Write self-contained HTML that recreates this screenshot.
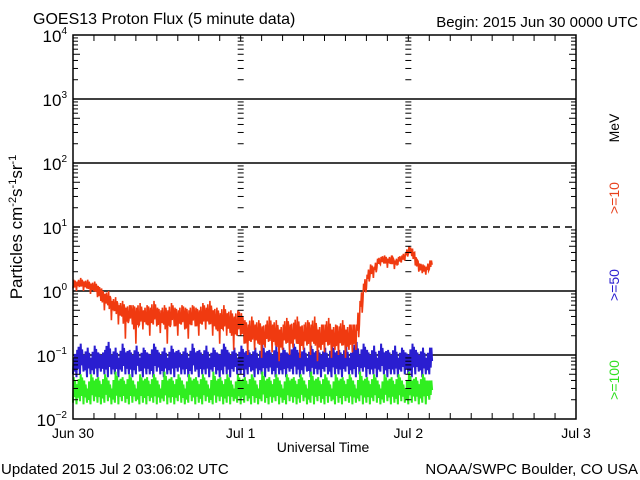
<!DOCTYPE html>
<html><head><meta charset="utf-8"><style>
body{margin:0;background:#fff;width:640px;height:480px;overflow:hidden}
svg{display:block;font-family:"Liberation Sans","DejaVu Sans",sans-serif}
</style></head><body>
<svg id="chart" width="640" height="480" viewBox="0 0 640 480">
<rect x="0" y="0" width="640" height="480" fill="#fff"/>
<text x="33" y="24" font-size="16">GOES13 Proton Flux (5 minute data)</text>
<text x="638" y="27" font-size="15" text-anchor="end">Begin: 2015 Jun 30 0000 UTC</text>
<g id="grid"></g>
<g id="series"></g>
<g id="axes"></g>
<text transform="translate(22,227) rotate(-90)" font-size="17" text-anchor="middle">Particles cm<tspan dy="-6" font-size="11">-2</tspan><tspan dy="6">s</tspan><tspan dy="-6" font-size="11">-1</tspan><tspan dy="6">sr</tspan><tspan dy="-6" font-size="11">-1</tspan></text>
<text transform="translate(619,128) rotate(-90)" font-size="14" text-anchor="middle">MeV</text>
<text transform="translate(619,198) rotate(-90)" font-size="14" text-anchor="middle" fill="#e8401c">&gt;=10</text>
<text transform="translate(619,285) rotate(-90)" font-size="14" text-anchor="middle" fill="#2a1ed0">&gt;=50</text>
<text transform="translate(619,380) rotate(-90)" font-size="14" text-anchor="middle" fill="#30e020">&gt;=100</text>
<text x="323" y="452" font-size="14" text-anchor="middle">Universal Time</text>
<text x="1" y="474" font-size="15">Updated 2015 Jul  2 03:06:02 UTC</text>
<text x="638" y="474" font-size="15" text-anchor="end">NOAA/SWPC Boulder, CO USA</text>
</svg>
<script>
const dayLabels=["Jun 30","Jul 1","Jul 2","Jul 3"];
const decadeExps=[-2,-1,0,1,2,3,4];
const stepHours=0.5;
const redHi=[1.5,1.4,1.6,1.4,1.5,1.3,1.4,1.2,1.1,
0.9,1.0,0.7,0.8,0.6,0.7,0.55,0.6,
0.6,0.55,0.65,0.5,0.6,0.55,0.7,0.55,0.5,0.6,0.5,0.65,0.55,0.5,0.6,0.55,0.5,0.6,0.55,0.5,0.65,0.55,0.7,0.5,0.55,0.45,0.6,0.45,0.5,0.4,0.5,0.45,
0.35,0.3,0.4,0.3,0.35,0.28,0.3,0.4,0.3,0.35,0.25,0.3,0.38,0.3,0.32,0.4,0.28,0.3,0.35,0.3,0.4,0.25,0.3,0.3,0.38,0.25,0.3,0.28,0.35,0.25,0.3,0.3,
0.3,0.7,1.3,1.8,2.6,2.4,3.2,3.4,
3.6,3.2,3.6,3.0,3.4,3.6,4.0,5.0,
4.6,3.4,2.7,2.6,2.4,3.0];
const redLo=[1.1,1.0,1.2,1.0,1.1,0.9,1.0,0.8,0.7,
0.5,0.6,0.35,0.5,0.3,0.4,0.18,0.35,
0.3,0.15,0.3,0.25,0.3,0.2,0.3,0.28,0.22,0.3,0.15,0.3,0.28,0.2,0.3,0.25,0.18,0.3,0.28,0.2,0.3,0.25,0.3,0.2,0.25,0.15,0.25,0.2,0.22,0.12,0.2,0.2,
0.15,0.1,0.16,0.12,0.15,0.09,0.13,0.16,0.11,0.14,0.08,0.12,0.15,0.1,0.13,0.15,0.09,0.12,0.14,0.1,0.15,0.08,0.12,0.11,0.14,0.09,0.12,0.1,0.14,0.09,0.12,0.11,
0.12,0.3,0.7,1.1,1.7,1.6,2.3,2.6,
2.7,2.3,2.7,2.2,2.6,2.8,3.0,3.8,
3.5,2.5,2.0,1.9,1.8,2.2];
const blueHi=[0.09,0.12,0.15,0.1,0.13,0.09,0.14,0.11,0.1,0.12,0.16,0.1,0.13,0.09,0.15,0.11,0.12,0.1,0.14,0.09,0.13,0.11,0.1,0.15,0.12,0.1,0.13,0.09,0.14,0.11,0.12,0.1,0.13,0.09,0.15,0.11,0.12,0.1,0.14,0.09,0.13,0.11,0.1,0.15,0.12,0.1,0.13,0.09,0.14,0.11,0.12,0.1,0.13,0.09,0.15,0.11,0.12,0.1,0.14,0.09,0.13,0.11,0.1,0.15,0.12,0.1,0.13,0.09,0.14,0.11,0.12,0.1,0.13,0.09,0.15,0.11,0.12,0.1,0.14,0.09,0.13,0.16,0.1,0.15,0.12,0.1,0.14,0.09,0.15,0.11,0.12,0.1,0.14,0.09,0.13,0.11,0.1,0.15,0.12,0.1,0.13,0.09,0.13];
const blueLo=[0.05,0.045,0.05,0.055,0.045,0.05,0.05,0.045,0.055,0.05,0.045,0.05,0.05,0.045,0.055,0.05,0.05,0.045,0.05,0.055,0.045,0.05,0.05,0.045,0.055,0.05,0.045,0.05,0.05,0.045,0.055,0.05,0.05,0.045,0.05,0.055,0.045,0.05,0.05,0.045,0.055,0.05,0.045,0.05,0.05,0.045,0.055,0.05,0.05,0.045,0.05,0.055,0.045,0.05,0.05,0.045,0.055,0.05,0.045,0.05,0.05,0.045,0.055,0.05,0.05,0.045,0.05,0.055,0.045,0.05,0.05,0.045,0.055,0.05,0.045,0.05,0.05,0.045,0.055,0.05,0.05,0.045,0.05,0.055,0.045,0.05,0.05,0.045,0.055,0.05,0.045,0.05,0.05,0.045,0.055,0.05,0.05,0.045,0.05,0.055,0.045,0.05,0.05];
const greenHi=[0.045,0.035,0.05,0.04,0.03,0.05,0.04,0.045,0.035,0.05,0.04,0.03,0.055,0.04,0.045,0.035,0.05,0.04,0.03,0.05,0.04,0.045,0.035,0.05,0.04,0.03,0.055,0.04,0.045,0.035,0.05,0.04,0.03,0.05,0.04,0.045,0.035,0.05,0.04,0.03,0.055,0.04,0.045,0.035,0.05,0.04,0.03,0.05,0.04,0.045,0.035,0.05,0.04,0.03,0.055,0.04,0.045,0.035,0.05,0.04,0.03,0.05,0.04,0.045,0.035,0.05,0.04,0.03,0.055,0.04,0.045,0.035,0.05,0.04,0.03,0.05,0.04,0.045,0.035,0.05,0.04,0.03,0.055,0.04,0.045,0.035,0.05,0.04,0.03,0.05,0.04,0.045,0.035,0.05,0.04,0.03,0.055,0.04,0.045,0.035,0.05,0.04,0.04];
const greenLo=[0.018,0.017,0.019,0.017,0.018,0.017,0.019,0.018,0.017,0.018,0.019,0.017,0.018,0.017,0.019,0.018,0.017,0.018,0.019,0.017,0.018,0.017,0.019,0.018,0.017,0.018,0.019,0.017,0.018,0.017,0.019,0.018,0.017,0.018,0.019,0.017,0.018,0.017,0.019,0.018,0.017,0.018,0.019,0.017,0.018,0.017,0.019,0.018,0.017,0.018,0.019,0.017,0.018,0.017,0.019,0.018,0.017,0.018,0.019,0.017,0.018,0.017,0.019,0.018,0.017,0.018,0.019,0.017,0.018,0.017,0.019,0.018,0.017,0.018,0.019,0.017,0.018,0.017,0.019,0.018,0.017,0.018,0.019,0.017,0.018,0.017,0.019,0.018,0.017,0.018,0.019,0.017,0.018,0.017,0.019,0.018,0.017,0.018,0.019,0.017,0.018,0.017,0.02];

const NS="http://www.w3.org/2000/svg";
const L=73,R=576,T=35,B=419,HOURS=72;
function xs(h){return L+h/HOURS*(R-L);}
function ys(v){return B-(Math.log10(v)+2)*(B-T)/6;}
function mk(tag,attrs,parent){const e=document.createElementNS(NS,tag);for(const k in attrs)e.setAttribute(k,attrs[k]);parent.appendChild(e);return e;}
const grid=document.getElementById('grid'),axes=document.getElementById('axes'),ser=document.getElementById('series');

decadeExps.forEach(p=>{
  const y=ys(Math.pow(10,p));
  if(p>-2&&p<4){
    const ln=mk('line',{x1:L,x2:R,y1:y,y2:y,stroke:'#000','stroke-width':1.5},grid);
    if(p===1)ln.setAttribute('stroke-dasharray','7,5');
    
    
  }
  const t=mk('text',{x:L-6,y:y+7,'font-size':17,'text-anchor':'end'},axes);
  t.textContent='10';
  const s=mk('tspan',{dy:-8,'font-size':10},t);s.textContent=(p<0?'\u2212':'')+Math.abs(p);
  
  
  if(p<4){for(let m=2;m<=9;m++){
    const ym=ys(m*Math.pow(10,p));
    const len=(m===5)?7:5;
    [L,R-len].forEach(x0=>{mk('line',{x1:x0,x2:x0+len,y1:ym,y2:ym,stroke:'#000'},axes);});
    [xs(24),xs(48)].forEach(xd=>{mk('line',{x1:xd-3,x2:xd+3,y1:ym,y2:ym,stroke:'#000'},axes);});
  }}
});

dayLabels.forEach((d,i)=>{
  const x=xs(i*24);
  const t=mk('text',{x:x,y:438,'font-size':14,'text-anchor':'middle'},axes);
  t.textContent=d;
  
  
});
for(let h=0;h<=HOURS;h+=3){
  const x=xs(h);
  mk('line',{x1:x,x2:x,y1:B,y2:B-6,stroke:'#000'},axes);
  mk('line',{x1:x,x2:x,y1:T,y2:T+6,stroke:'#000'},axes);
}
const frame=mk('rect',{x:L,y:T,width:R-L,height:B-T,fill:'none',stroke:'#000','stroke-width':1.5},axes);



function band(hi,lo,color,name,w){
  let d='';
  hi.forEach((v,i)=>{
    const h=i*stepHours, nxt=i+1<hi.length?i+1:i;
    const mid=Math.sqrt(v*lo[i]);
    d+=(i?'L':'M')+xs(h).toFixed(1)+','+ys(lo[i]).toFixed(1)
      +'L'+xs(h+stepHours*0.2).toFixed(1)+','+ys(v).toFixed(1)
      +'L'+xs(h+stepHours*0.4).toFixed(1)+','+ys(Math.sqrt(mid*lo[nxt])).toFixed(1)
      +'L'+xs(h+stepHours*0.6).toFixed(1)+','+ys(Math.sqrt(v*hi[nxt])).toFixed(1)
      +'L'+xs(h+stepHours*0.8).toFixed(1)+','+ys(mid).toFixed(1);
  });
  const p=mk('path',{d:d,fill:'none',stroke:color,'stroke-width':w},ser);
  
  
}
band(blueHi,blueLo,'#2a1ed0','series-50mev',2);
band(greenHi,greenLo,'#30ee20','series-100mev',2);
band(redHi,redLo,'#f03a10','series-10mev',1.6);
</script>
</body></html>
